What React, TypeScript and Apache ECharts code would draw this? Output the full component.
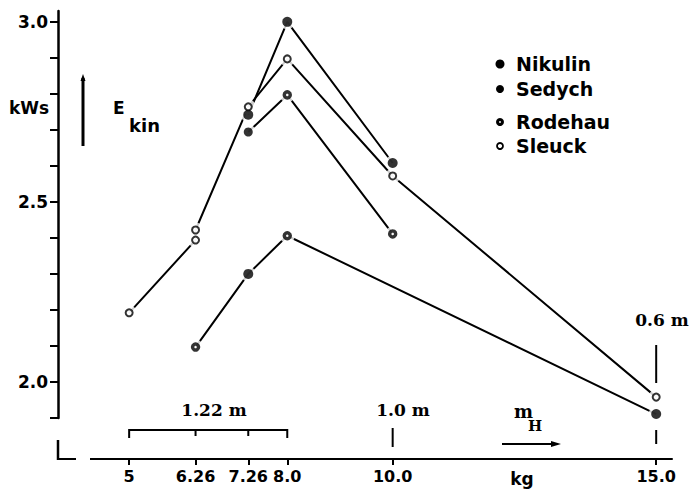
import React, { useEffect, useRef } from "react";
import * as echarts from "echarts";

// Axis ticks and labels
const xTickValues = [5, 6.26, 7.26, 8.0, 10.0, 15.0];
const xTickLabels = ["5", "6.26", "7.26", "8.0", "10.0", "15.0"];
const yTickValues = [1.9, 2.0, 2.1, 2.2, 2.3, 2.4, 2.5, 2.6, 2.7, 2.8, 2.9, 3.0];
const yLabelValues = [2.0, 2.5, 3.0];
const yLabelTexts = ["2.0", "2.5", "3.0"];

// Connecting curves (hammer mass kg, kinetic energy kWs)
const curveA = [[5, 2.192], [6.26, 2.394], [6.26, 2.422], [7.26, 2.764], [8.0, 2.897], [10.0, 2.572], [15.0, 1.958]];
const curveB = [[7.26, 2.742], [8.0, 3.0], [10.0, 2.608]];
const curveC = [[7.26, 2.694], [8.0, 2.797], [10.0, 2.411]];
const curveD = [[6.26, 2.097], [7.26, 2.3], [8.0, 2.406], [15.0, 1.911]];

// Points by athlete
const athleteNames = ["Nikulin", "Sedych", "Rodehau", "Sleuck"];
const nikulinPts = [[8.0, 3.0], [7.26, 2.742], [10.0, 2.608], [7.26, 2.3], [15.0, 1.911]];
const sedychPts = [[7.26, 2.694]];
const rodehauPts = [[8.0, 2.797], [10.0, 2.411], [8.0, 2.406], [6.26, 2.097]];
const sleuckPts = [[5, 2.192], [6.26, 2.394], [6.26, 2.422], [7.26, 2.764], [8.0, 2.897], [10.0, 2.572], [15.0, 1.958]];

const SANS = "'DejaVu Sans', sans-serif";
const SERIF = "'DejaVu Serif', serif";

function findLabel(v: number, vals: number[], texts: string[]) {
  for (let i = 0; i < vals.length; i++) if (Math.abs(vals[i] - v) < 1e-6) return texts[i];
  return "";
}

export default function App() {
  const ref = useRef<HTMLDivElement>(null);
  useEffect(() => {
    document.body.style.margin = "0";
    const chart = echarts.init(ref.current!, null, { renderer: "svg" });
    const lineSeries = [curveA, curveB, curveC, curveD].map((c) => ({
      type: "line",
      data: c,
      symbol: "none",
      lineStyle: { color: "#000", width: 2 },
      z: 2,
      silent: true,
    }));
    const allPts = [...nikulinPts, ...sedychPts, ...rodehauPts, ...sleuckPts];
    const option: any = {
      animation: false,
      backgroundColor: "#fff",
      grid: { left: 58, right: 20, top: 11, bottom: 75, containLabel: false },
      xAxis: {
        type: "value",
        min: 3.65,
        max: 15.3,
        offset: 41,
        axisLine: { show: true, lineStyle: { color: "#000", width: 2 } },
        axisTick: { show: true, customValues: xTickValues, length: 6, lineStyle: { color: "#000", width: 2 } },
        axisLabel: {
          customValues: xTickValues,
          formatter: (v: number) => findLabel(v, xTickValues, xTickLabels),
          color: "#000",
          fontFamily: SANS,
          fontWeight: "bold",
          fontSize: 16,
          margin: 9,
        },
        splitLine: { show: false },
      },
      yAxis: {
        type: "value",
        min: 1.9,
        max: 3.03,
        axisLine: { show: true, lineStyle: { color: "#000", width: 2.5 } },
        axisTick: { show: true, customValues: yTickValues, length: 8, lineStyle: { color: "#000", width: 2 } },
        axisLabel: {
          customValues: yLabelValues,
          formatter: (v: number) => findLabel(v, yLabelValues, yLabelTexts),
          color: "#000",
          fontFamily: SANS,
          fontWeight: "bold",
          fontSize: 17,
          margin: 10,
        },
        splitLine: { show: false },
      },
      series: [
        ...lineSeries,
        { type: "scatter", data: allPts, symbolSize: 15, itemStyle: { color: "#fff" }, z: 3, silent: true },
        { name: athleteNames[0], type: "scatter", data: nikulinPts, symbolSize: 10, itemStyle: { color: "#000" }, z: 4 },
        { name: athleteNames[1], type: "scatter", data: sedychPts, symbolSize: 9, itemStyle: { color: "#000" }, z: 4 },
        {
          name: athleteNames[2], type: "scatter", data: rodehauPts, symbolSize: 6,
          itemStyle: { color: "#fff", borderColor: "#000", borderWidth: 3.5 }, z: 4,
        },
        {
          name: athleteNames[3], type: "scatter", data: sleuckPts, symbolSize: 7,
          itemStyle: { color: "#fff", borderColor: "#000", borderWidth: 2 }, z: 4,
        },
      ],
    };
    chart.setOption(option);

    const px = (v: number) => chart.convertToPixel({ xAxisIndex: 0 }, v) as number;
    const x5 = px(xTickValues[0]);
    const x626 = px(xTickValues[1]);
    const x726 = px(xTickValues[2]);
    const x8 = px(xTickValues[3]);
    const x10 = px(xTickValues[4]);
    const x15 = px(xTickValues[5]);
    const blk = { stroke: "#000", lineWidth: 2 };
    const txt = (x: number, y: number, text: string, size: number, family: string, align = "left") => ({
      type: "text", x, y,
      style: { text, fontSize: size, fontFamily: family, fontWeight: "bold", fill: "#000", textAlign: align, textVerticalAlign: "middle" },
    });
    const legendYs = [64, 89, 122, 146];
    const legendMarks = [
      { type: "circle", shape: { cx: 500, cy: legendYs[0], r: 4.5 }, style: { fill: "#000" } },
      { type: "circle", shape: { cx: 500, cy: legendYs[1], r: 4 }, style: { fill: "#000" } },
      { type: "circle", shape: { cx: 500, cy: legendYs[2], r: 2.5 }, style: { fill: "#fff", stroke: "#000", lineWidth: 3 } },
      { type: "circle", shape: { cx: 500, cy: legendYs[3], r: 3 }, style: { fill: "#fff", stroke: "#000", lineWidth: 1.8 } },
    ];
    const graphic: any[] = [
      ...legendMarks,
      ...athleteNames.map((n, i) => txt(516, legendYs[i], n, 19, SANS)),
      txt(9, 108, "kWs", 17, SANS),
      { type: "line", shape: { x1: 83, y1: 146, x2: 83, y2: 78 }, style: { stroke: "#000", lineWidth: 3 } },
      { type: "polygon", shape: { points: [[80.5, 81], [83, 74], [85.5, 81]] }, style: { fill: "#000" } },
      txt(113, 108, "E", 17, SANS),
      txt(129, 125, "kin", 18, SANS),
      // 1.22 m bracket
      { type: "polyline", shape: { points: [[x5, 438], [x5, 430], [x8, 430], [x8, 438]] }, style: { ...blk, fill: null } },
      { type: "line", shape: { x1: x626, y1: 430, x2: x626, y2: 436 }, style: blk },
      { type: "line", shape: { x1: x726, y1: 430, x2: x726, y2: 436 }, style: blk },
      txt(214, 410, "1.22 m", 17, SERIF, "center"),
      // 1.0 m
      { type: "line", shape: { x1: x10, y1: 428, x2: x10, y2: 447 }, style: blk },
      txt(403, 410, "1.0 m", 17, SERIF, "center"),
      // 0.6 m
      { type: "line", shape: { x1: x15, y1: 345, x2: x15, y2: 383 }, style: blk },
      { type: "line", shape: { x1: x15, y1: 430, x2: x15, y2: 444 }, style: blk },
      txt(662, 320, "0.6 m", 17, SERIF, "center"),
      // m_H arrow
      txt(514, 411, "m", 18, SERIF),
      txt(528, 426, "H", 15, SERIF),
      { type: "line", shape: { x1: 502, y1: 444, x2: 554, y2: 444 }, style: { stroke: "#000", lineWidth: 1.8 } },
      { type: "polygon", shape: { points: [[551, 441], [561, 444], [551, 447]] }, style: { fill: "#000" } },
      // kg
      txt(522, 479, "kg", 17, SANS, "center"),
      // broken axis
      { type: "rect", shape: { x: 76, y: 455, width: 14, height: 9 }, style: { fill: "#fff" }, z: 100 },
      { type: "line", shape: { x1: 58, y1: 440, x2: 58, y2: 460 }, style: { stroke: "#000", lineWidth: 2.5 }, z: 100 },
    ];
    chart.setOption({ graphic });
    return () => chart.dispose();
  }, []);
  return <div ref={ref} style={{ position: "fixed", left: 0, top: 0, width: 692, height: 493 }} />;
}
